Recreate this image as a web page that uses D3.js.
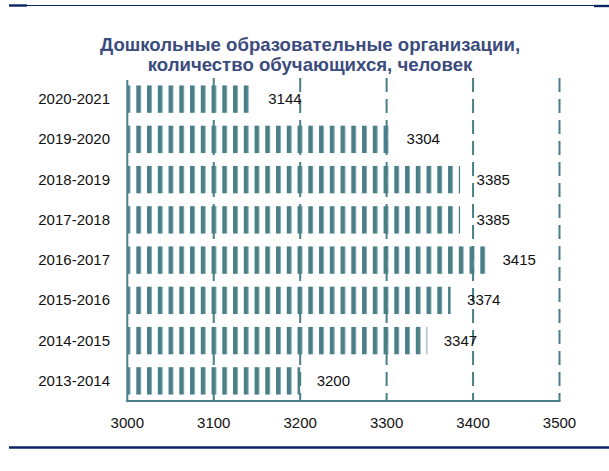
<!DOCTYPE html>
<html><head><meta charset="utf-8">
<script src="https://cdn.jsdelivr.net/npm/d3@7"></script>
<style>html,body{margin:0;padding:0;background:#fff;}</style>
</head><body>
<svg id="c" width="609" height="471"></svg>
<script>
const categories = ["2020-2021","2019-2020","2018-2019","2017-2018","2016-2017","2015-2016","2014-2015","2013-2014"];
const values = [3144, 3304, 3385, 3385, 3415, 3374, 3347, 3200];
const tickValues = [3000, 3100, 3200, 3300, 3400, 3500];
const titleLines = ["Дошкольные образовательные организации,", "количество обучающихся, человек"];

const svg = d3.select("#c");
const font = "'Liberation Sans', Arial, sans-serif";
const teal = "#4a7f87";

const x = d3.scaleLinear().domain([3000, 3500]).range([127.3, 559.5]);
const y = d3.scaleBand().domain(categories).range([79, 401]).paddingInner(0.32).paddingOuter(0.16);

// top & bottom rules
svg.append("line").attr("x1", 9).attr("x2", 607).attr("y1", 5.5).attr("y2", 5.5).attr("stroke", "#0b2463").attr("stroke-width", 1.2);
svg.append("line").attr("x1", 9).attr("x2", 27).attr("y1", 5.5).attr("y2", 5.5).attr("stroke", "#0b2463").attr("stroke-width", 2.4);
svg.append("line").attr("x1", 594).attr("x2", 609).attr("y1", 6).attr("y2", 6).attr("stroke", "#0b2463").attr("stroke-width", 2.4);
svg.append("line").attr("x1", 9).attr("x2", 609).attr("y1", 447.5).attr("y2", 447.5).attr("stroke", "#0b2463").attr("stroke-width", 2.5);

// title
svg.append("g").selectAll("text").data(titleLines).join("text")
  .attr("x", 310).attr("y", (d, i) => 51 + i * 20)
  .attr("text-anchor", "middle")
  .attr("font-family", "'Liberation Sans Narrow', 'Liberation Sans', Arial, sans-serif")
  .attr("font-weight", "bold").attr("font-size", 18.6)
  .attr("fill", "#3b4b7d")
  .text(d => d);

// pattern
const defs = svg.append("defs");
const pat = defs.append("pattern").attr("id", "stripes").attr("patternUnits", "userSpaceOnUse")
  .attr("x", 136.3).attr("y", 0).attr("width", 10.75).attr("height", 10);
pat.append("rect").attr("x", 0).attr("y", 0).attr("width", 10.75).attr("height", 10).attr("fill", "#fff");
pat.append("rect").attr("x", -0.6).attr("y", 0).attr("width", 5.6).attr("height", 10).attr("fill", "#bcd3d5");
pat.append("rect").attr("x", 0).attr("y", 0).attr("width", 4.4).attr("height", 10).attr("fill", "#4a7f87");

// bars
svg.append("g").selectAll("rect").data(values).join("rect")
  .attr("x", x(3000)).attr("y", (d, i) => y(categories[i]))
  .attr("width", d => x(d) - x(3000)).attr("height", y.bandwidth())
  .attr("fill", "url(#stripes)");

// gridlines (on top)
svg.append("g").selectAll("line").data(tickValues.slice(1)).join("line")
  .attr("x1", d => x(d)).attr("x2", d => x(d))
  .attr("y1", 78).attr("y2", 401)
  .attr("stroke", teal).attr("stroke-width", 2).attr("stroke-dasharray", "14,7");

// axes lines
svg.append("line").attr("x1", x(3000)).attr("x2", x(3000)).attr("y1", 80).attr("y2", 401.5).attr("stroke", teal).attr("stroke-width", 2);
svg.append("line").attr("x1", x(3000) - 1).attr("x2", x(3500) + 1).attr("y1", 401).attr("y2", 401).attr("stroke", teal).attr("stroke-width", 2);

// x tick labels
svg.append("g").selectAll("text").data(tickValues).join("text")
  .attr("x", d => x(d)).attr("y", 428)
  .attr("text-anchor", "middle").attr("font-family", font).attr("font-size", 15).attr("fill", "#111")
  .text(d => d);

// category labels
svg.append("g").selectAll("text").data(categories).join("text")
  .attr("x", 110).attr("y", d => y(d) + y.bandwidth() / 2 + 5)
  .attr("text-anchor", "end").attr("font-family", font).attr("font-size", 15).attr("fill", "#111")
  .text(d => d);

// value labels
svg.append("g").selectAll("text").data(values).join("text")
  .attr("x", d => x(d) + 16.5).attr("y", (d, i) => y(categories[i]) + y.bandwidth() / 2 + 5)
  .attr("font-family", font).attr("font-size", 15).attr("fill", "#111")
  .text(d => d);
</script>
</body></html>
